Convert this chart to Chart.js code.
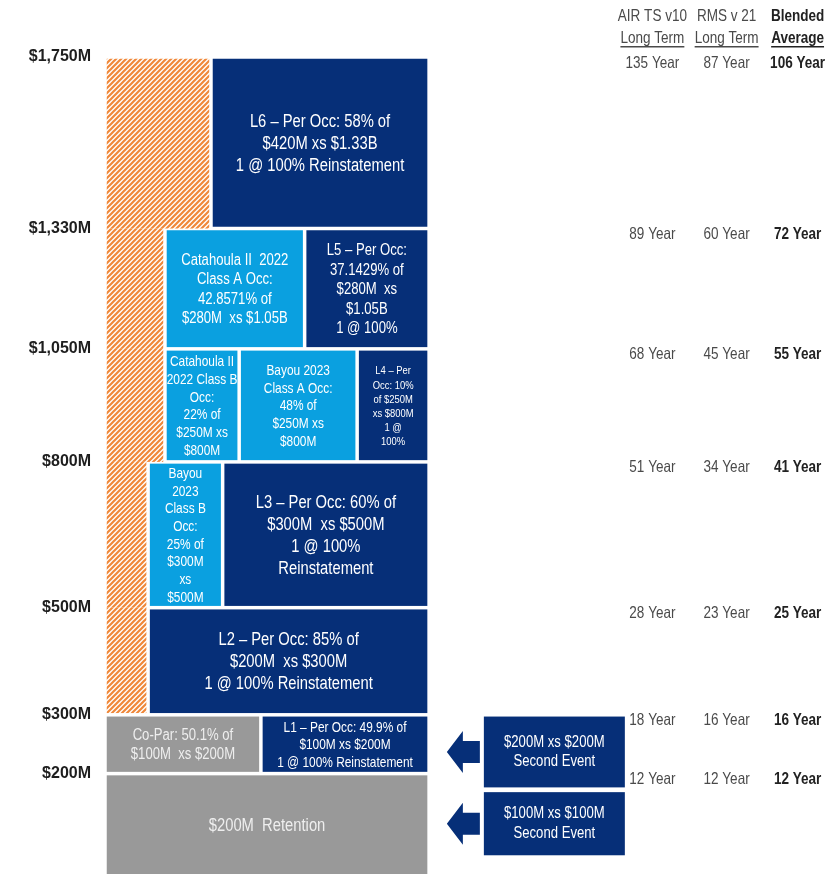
<!DOCTYPE html>
<html>
<head>
<meta charset="utf-8">
<script src="https://cdn.jsdelivr.net/npm/chart.js@4.4.1/dist/chart.umd.min.js"></script>
<style>
html, body { margin: 0; padding: 0; background: #fff; }
#wrap { width: 828px; height: 874px; }
</style>
</head>
<body>
<div id="wrap"><canvas id="tower"></canvas></div>
<script>
// attachment points of the programme ($M) and their axis labels
var attachPoints = [200, 300, 500, 800, 1050, 1330, 1750];
var tickLabels = ['$200M', '$300M', '$500M', '$800M', '$1,050M', '$1,330M', '$1,750M'];

// modelled return periods at each attachment point
var airYears = [12, 18, 28, 51, 68, 89, 135];
var rmsYears = [12, 16, 23, 34, 45, 60, 87];
var blendYears = [12, 16, 25, 41, 55, 72, 106];

// placed pieces of the tower: $M range (low/high) and share range in % (from/to)
var boxText = [
    ['$200M  Retention'],
    ['Co-Par: 50.1% of', '$100M  xs $200M'],
    ['L1 \u2013 Per Occ: 49.9% of', '$100M xs $200M', '1 @ 100% Reinstatement'],
    ['L2 \u2013 Per Occ: 85% of', '$200M  xs $300M', '1 @ 100% Reinstatement'],
    ['Bayou', '2023', 'Class B', 'Occ:', '25% of', '$300M', 'xs', '$500M'],
    ['L3 \u2013 Per Occ: 60% of', '$300M  xs $500M', '1 @ 100%', 'Reinstatement'],
    ['Catahoula II', '2022 Class B', 'Occ:', '22% of', '$250M xs', '$800M'],
    ['Bayou 2023', 'Class A Occ:', '48% of', '$250M xs', '$800M'],
    ['L4 \u2013 Per', 'Occ: 10%', 'of $250M', 'xs $800M', '1 @', '100%'],
    ['Catahoula II  2022', 'Class A Occ:', '42.8571% of', '$280M  xs $1.05B'],
    ['L5 \u2013 Per Occ:', '37.1429% of', '$280M  xs', '$1.05B', '1 @ 100%'],
    ['L6 \u2013 Per Occ: 58% of', '$420M xs $1.33B', '1 @ 100% Reinstatement']
];
var boxLow = [0, 200, 200, 300, 500, 500, 800, 800, 800, 1050, 1050, 1330];
var boxHigh = [200, 300, 300, 500, 800, 800, 1050, 1050, 1050, 1330, 1330, 1750];
var boxFrom = [0, 0, 48.1, 13.3, 13.3, 36.3, 18.5, 41.4, 77.8, 18.5, 61.6, 32.7];
var boxTo = [100, 48.1, 100, 100, 36.3, 100, 41.4, 77.8, 100, 61.6, 100, 100];
var boxKind = ['retained', 'retained', 'layer', 'layer', 'cat', 'layer', 'cat', 'cat', 'layer', 'cat', 'layer', 'layer'];

// share left unplaced in each band (hatched)
var openLow = [300, 500, 800, 1050, 1330];
var openHigh = [500, 800, 1050, 1330, 1750];
var openShare = [13.3, 13.3, 18.5, 18.5, 32.7];

// second event covers
var secondText = [['$200M xs $200M', 'Second Event'], ['$100M xs $100M', 'Second Event']];

// ---- styles / layout ----
var FONT = "'Liberation Sans', Arial, sans-serif";
var SQUEEZE = 0.82;   // the source uses a condensed face
var colors = { layer: '#062F78', cat: '#0AA0E0', retained: '#999999' };
var textColors = { layer: '#ffffff', cat: '#ffffff', retained: '#eeeeee' };
var boxFont = [18, 16, 14.5, 18, 14.5, 18, 14.5, 14.5, 11.5, 16, 16, 18];
var GAP = 1.75;
var POW = 0.8;
var secondBoxes = [{ lo: 175, hi: 300 }, { lo: 75, hi: 173 }];
var secondX = [116.9, 160.4];
var tableCols = [168.9, 191.8, 213.7];

class PowerScale extends Chart.LinearScale {
    configure() {
        super.configure();
        this._uMin = Math.pow(this.min, POW);
        this._uMax = Math.pow(this.max, POW);
    }
    getPixelForValue(v) {
        return this.getPixelForDecimal((Math.pow(v, POW) - this._uMin) / (this._uMax - this._uMin));
    }
    getValueForPixel(p) {
        var d = this.getDecimalForPixel(p);
        return Math.pow(this._uMin + d * (this._uMax - this._uMin), 1 / POW);
    }
}
PowerScale.id = 'power';
PowerScale.defaults = {};
Chart.register(PowerScale);

function makeHatch(ctx) {
    var c = document.createElement('canvas');
    c.width = 5; c.height = 5;
    var g = c.getContext('2d');
    g.strokeStyle = '#F0883A';
    g.lineWidth = 2.2;
    g.beginPath();
    g.moveTo(-1, 6); g.lineTo(6, -1);
    g.moveTo(-1, 1); g.lineTo(1, -1);
    g.moveTo(4, 6); g.lineTo(6, 4);
    g.stroke();
    return ctx.createPattern(c, 'repeat');
}

function squeezeText(ctx, text, x, y) {
    ctx.save();
    ctx.translate(x, y);
    ctx.scale(SQUEEZE, 1);
    ctx.fillText(text, 0, 0);
    ctx.restore();
}

function drawLines(ctx, lines, cx, cy, size, lh, bold, color) {
    ctx.font = (bold ? 'bold ' : '') + size + 'px ' + FONT;
    ctx.fillStyle = color;
    ctx.textAlign = 'center';
    ctx.textBaseline = 'middle';
    var y0 = cy - (lines.length - 1) * lh / 2;
    for (var i = 0; i < lines.length; i++) {
        squeezeText(ctx, lines[i], cx, y0 + i * lh);
    }
}

var towerPlugin = {
    id: 'tower',
    beforeDatasetsDraw: function (chart) {
        var ctx = chart.ctx, xs = chart.scales.x, ys = chart.scales.y, a = chart.chartArea;
        ctx.save();
        ctx.beginPath();
        ctx.rect(a.left, a.top, a.right - a.left, a.bottom - a.top);
        ctx.clip();

        // hatched unplaced share
        ctx.fillStyle = makeHatch(ctx);
        for (var i = 0; i < openShare.length; i++) {
            var l = xs.getPixelForValue(0) + GAP;
            var r = xs.getPixelForValue(openShare[i]) - GAP;
            var t = ys.getPixelForValue(openHigh[i]) + (i === openShare.length - 1 ? GAP : 0);
            var b = ys.getPixelForValue(openLow[i]) - (i === 0 ? GAP : 0);
            ctx.fillRect(l, t, r - l, b - t);
        }

        // placed boxes
        for (var j = 0; j < boxText.length; j++) {
            var bl = xs.getPixelForValue(boxFrom[j]) + GAP;
            var br = xs.getPixelForValue(boxTo[j]) - GAP;
            var bt = ys.getPixelForValue(boxHigh[j]) + GAP;
            var bb = ys.getPixelForValue(boxLow[j]) - GAP;
            ctx.fillStyle = colors[boxKind[j]];
            ctx.fillRect(bl, bt, br - bl, bb - bt);
            ctx.save();
            ctx.beginPath();
            ctx.rect(bl, bt, br - bl, bb - bt);
            ctx.clip();
            var size = boxFont[j];
            var vt = Math.max(bt, a.top), vb = Math.min(bb, a.bottom);
            drawLines(ctx, boxText[j], (bl + br) / 2, (vt + vb) / 2 + 1, size, size * 1.22, false, textColors[boxKind[j]]);
            ctx.restore();
        }
        ctx.restore();

        // second event boxes with arrows
        for (var k = 0; k < secondText.length; k++) {
            var sl = xs.getPixelForValue(secondX[0]);
            var sr = xs.getPixelForValue(secondX[1]);
            var st = ys.getPixelForValue(secondBoxes[k].hi) + GAP;
            var sb = ys.getPixelForValue(secondBoxes[k].lo) - GAP;
            var sc = (st + sb) / 2;
            ctx.fillStyle = colors.layer;
            ctx.fillRect(sl, st, sr - sl, sb - st);
            drawLines(ctx, secondText[k], (sl + sr) / 2, sc, 16, 19.5, false, '#ffffff');
            ctx.fillStyle = colors.layer;
            ctx.beginPath();
            ctx.moveTo(sl - 37, sc);
            ctx.lineTo(sl - 21, sc - 21);
            ctx.lineTo(sl - 21, sc - 11);
            ctx.lineTo(sl - 4, sc - 11);
            ctx.lineTo(sl - 4, sc + 11);
            ctx.lineTo(sl - 21, sc + 11);
            ctx.lineTo(sl - 21, sc + 21);
            ctx.closePath();
            ctx.fill();
        }
    },
    afterDraw: function (chart) {
        var ctx = chart.ctx, xs = chart.scales.x, ys = chart.scales.y;
        var heads = [['AIR TS v10', 'Long Term'], ['RMS v 21', 'Long Term'], ['Blended', 'Average']];
        var cols = [airYears, rmsYears, blendYears];
        ctx.save();
        for (var c = 0; c < 3; c++) {
            var cx = xs.getPixelForValue(tableCols[c]);
            var bold = c === 2;
            ctx.font = (bold ? 'bold ' : '') + '16.5px ' + FONT;
            ctx.fillStyle = bold ? '#222222' : '#4a4a4a';
            ctx.textAlign = 'center';
            ctx.textBaseline = 'middle';
            squeezeText(ctx, heads[c][0], cx, 16);
            squeezeText(ctx, heads[c][1], cx, 38);
            var w = ctx.measureText(heads[c][1]).width * SQUEEZE;
            ctx.fillRect(cx - w / 2, 46, w, 1.5);
            for (var r = 0; r < attachPoints.length; r++) {
                squeezeText(ctx, cols[c][r] + ' Year', cx, ys.getPixelForValue(attachPoints[r]) + 6);
            }
        }
        ctx.restore();
    }
};

new Chart(document.getElementById('tower'), {
    type: 'scatter',
    data: { datasets: [] },
    options: {
        responsive: true,
        maintainAspectRatio: false,
        animation: false,
        layout: { padding: { top: 57, right: 10, bottom: 0, left: 0 } },
        plugins: { legend: { display: false }, tooltip: { enabled: false } },
        scales: {
            x: { type: 'linear', min: 0, max: 220, display: false },
            y: {
                type: 'power',
                min: 53,
                max: 1750,
                bounds: 'data',
                grid: { display: false, drawTicks: false },
                border: { display: false },
                afterBuildTicks: function (scale) {
                    scale.ticks = attachPoints.map(function (v) { return { value: v }; });
                },
                afterFit: function (scale) {
                    scale.width = 105;
                    scale.paddingTop = 0;
                    scale.paddingBottom = 0;
                },
                ticks: {
                    autoSkip: false,
                    padding: 14,
                    color: '#1e1e1e',
                    font: { family: FONT, size: 16, weight: 'bold' },
                    callback: function (value) { return tickLabels[attachPoints.indexOf(value)]; }
                }
            }
        }
    },
    plugins: [towerPlugin]
});
</script>
</body>
</html>
